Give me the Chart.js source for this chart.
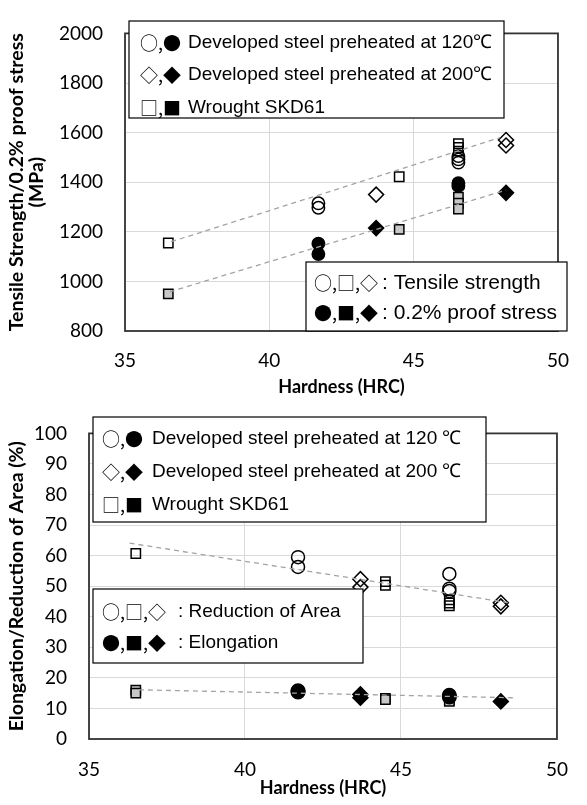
<!DOCTYPE html>
<html>
<head>
<meta charset="utf-8">
<script src="https://cdn.jsdelivr.net/npm/chart.js@4.4.1/dist/chart.umd.min.js"></script>
<style>
    html, body { margin: 0; padding: 0; background: #ffffff; }
    #wrap { position: relative; width: 587px; height: 805px; }
    canvas { position: absolute; left: 0; }
    #strengthChart { top: 0; }
    #ductilityChart { top: 400px; }
</style>
</head>
<body>
<div id="wrap">
    <canvas id="strengthChart" width="587" height="400"></canvas>
    <canvas id="ductilityChart" width="587" height="405"></canvas>
</div>
<script>
// Axa X comună: duritate (HRC)
const hardnessTicks = [35, 40, 45, 50];
const strengthTicks = [800, 1000, 1200, 1400, 1600, 1800, 2000];
const ductilityTicks = [0, 10, 20, 30, 40, 50, 60, 70, 80, 90, 100];

// Grafic 1 - rezistență la tracțiune (simboluri goale) și limita 0.2% (simboluri pline), MPa
const hrcDev120Ts = [41.7, 41.7, 46.55, 46.55, 46.55];
const tsDev120 = [1315, 1297, 1505, 1492, 1479];
const hrcDev120Ps = [41.7, 41.7, 46.55, 46.55];
const psDev120 = [1152, 1110, 1396, 1385];

const hrcDev200Ts = [43.7, 48.2, 48.2];
const tsDev200 = [1350, 1570, 1548];
const hrcDev200Ps = [43.7, 48.2];
const psDev200 = [1215, 1357];

const hrcSkdTs = [36.5, 44.5, 46.55, 46.55, 46.55];
const tsSkd = [1155, 1422, 1555, 1540, 1525];
const hrcSkdPs = [36.5, 44.5, 46.55, 46.55, 46.55];
const psSkd = [950, 1210, 1340, 1315, 1292];

// Linii de tendință (capete)
const trendHrcTs = [36.6, 48.0];
const trendTs = [1160, 1580];
const trendHrcPs = [36.55, 48.2];
const trendPs = [958, 1368];

// Grafic 2 - reducerea ariei (goale) și alungirea (pline), %
const hrcDev120Ra = [41.7, 41.7, 46.55, 46.55, 46.55];
const raDev120 = [59.5, 56.3, 54.0, 49.2, 48.4];
const hrcDev120El = [41.7, 41.7, 46.55, 46.55];
const elDev120 = [15.8, 15.4, 14.3, 13.8];

const hrcDev200Ra = [43.7, 43.7, 48.2, 48.2];
const raDev200 = [52.3, 49.7, 44.6, 43.4];
const hrcDev200El = [43.7, 43.7, 48.2];
const elDev200 = [14.6, 13.5, 12.3];

const hrcSkdRa = [36.5, 44.5, 44.5, 46.55, 46.55, 46.55];
const raSkd = [60.7, 51.5, 50.3, 45.5, 44.5, 43.6];
const hrcSkdEl = [36.5, 36.5, 44.5, 44.5, 46.55, 46.55];
const elSkd = [16.0, 15.0, 13.3, 12.9, 12.8, 12.3];

const trendHrcRa = [36.3, 48.5];
const trendRa = [64.1, 44.5];
const trendHrcEl = [36.6, 48.6];
const trendEl = [16.1, 13.5];

const TICK_FONT = { family: 'Lato, "Open Sans", sans-serif', size: 19 };
const X_TITLE_FONT = { family: 'Lato, "Open Sans", sans-serif', size: 18, weight: 'bold', lineHeight: 1.15 };
const Y_TITLE_FONT = { family: 'Lato, "Open Sans", sans-serif', size: 19.5, weight: 'bold', lineHeight: 1.05 };
const NOTE_FAMILY = '"Liberation Sans", Arial, sans-serif';
const GLYPH_FONT = '18px "Noto Sans CJK JP", "DejaVu Sans", sans-serif';

function toPoints(xs, ys) {
    return xs.map((x, i) => ({ x: x, y: ys[i] }));
}

// Set de puncte cu simbol (cerc, romb, pătrat)
function markerSet(label, xs, ys, style, fill, radius) {
    return {
        type: 'scatter',
        label: label,
        data: toPoints(xs, ys),
        pointStyle: style,
        pointRadius: radius,
        pointHoverRadius: radius,
        backgroundColor: fill,
        borderColor: '#000000',
        borderWidth: 1.5,
        order: 1
    };
}

// Linie de tendință punctată, gri
function trendSet(label, xs, ys) {
    return {
        type: 'scatter',
        label: label,
        data: toPoints(xs, ys),
        showLine: true,
        borderColor: '#a3a3a3',
        borderWidth: 1.3,
        borderDash: [5, 4],
        pointRadius: 0,
        fill: false,
        order: 0
    };
}

// Chenarul zonei de desenare
const plotFrame = {
    id: 'plotFrame',
    beforeDatasetsDraw(chart) {
        const a = chart.chartArea;
        const ctx = chart.ctx;
        ctx.save();
        ctx.strokeStyle = '#333333';
        ctx.lineWidth = 1.8;
        ctx.strokeRect(a.left, a.top, a.right - a.left, a.bottom - a.top);
        ctx.restore();
    }
};

// Casetele cu explicații (desenate peste puncte)
const notePanels = {
    id: 'notePanels',
    afterDatasetsDraw(chart, args, opts) {
        const ctx = chart.ctx;
        ctx.save();
        (opts.boxes || []).forEach(box => {
            ctx.fillStyle = '#ffffff';
            ctx.fillRect(box.x, box.y, box.w, box.h);
            ctx.strokeStyle = '#000000';
            ctx.lineWidth = 1.2;
            ctx.strokeRect(box.x, box.y, box.w, box.h);
            ctx.fillStyle = '#000000';
            ctx.textBaseline = 'middle';
            ctx.textAlign = 'left';
            box.rows.forEach(row => {
                ctx.font = GLYPH_FONT;
                ctx.fillText(row.glyphs, box.glyphX, row.y);
                ctx.font = box.size + 'px ' + NOTE_FAMILY;
                ctx.fillText(row.text, box.textX, row.y);
            });
        });
        ctx.restore();
    }
};

function buildOptions(yTicks, yTitle, axisWidth, axisHeight, pad, tickPad, titlePad, boxes) {
    return {
        responsive: false,
        animation: false,
        events: [],
        layout: { padding: pad },
        scales: {
            x: {
                type: 'linear',
                min: hardnessTicks[0],
                max: hardnessTicks[hardnessTicks.length - 1],
                afterFit: s => { s.height = axisHeight; },
                grid: { color: '#d9d9d9', lineWidth: 1, drawTicks: false },
                border: { display: false },
                ticks: {
                    stepSize: hardnessTicks[1] - hardnessTicks[0],
                    font: TICK_FONT,
                    color: '#000000',
                    padding: tickPad,
                    callback: v => String(v)
                },
                title: {
                    display: true,
                    text: 'Hardness (HRC)',
                    font: X_TITLE_FONT,
                    color: '#000000',
                    padding: { top: 0, bottom: titlePad }
                }
            },
            y: {
                type: 'linear',
                min: yTicks[0],
                max: yTicks[yTicks.length - 1],
                afterFit: s => { s.width = axisWidth; },
                grid: { color: '#d9d9d9', lineWidth: 1, drawTicks: false },
                border: { display: false },
                ticks: {
                    stepSize: yTicks[1] - yTicks[0],
                    font: TICK_FONT,
                    color: '#000000',
                    padding: 22,
                    callback: v => String(v)
                },
                title: {
                    display: true,
                    text: yTitle,
                    font: Y_TITLE_FONT,
                    color: '#000000',
                    padding: { top: 6.5, bottom: 0 }
                }
            }
        },
        plugins: {
            legend: { display: false },
            tooltip: { enabled: false },
            notePanels: { boxes: boxes }
        }
    };
}

// Grafic 1: rezistență / limita de curgere vs. duritate
new Chart(document.getElementById('strengthChart').getContext('2d'), {
    data: {
        datasets: [
            trendSet('trend TS', trendHrcTs, trendTs),
            trendSet('trend PS', trendHrcPs, trendPs),
            markerSet('120 TS', hrcDev120Ts, tsDev120, 'circle', 'rgba(255,255,255,0)', 6.2),
            markerSet('120 PS', hrcDev120Ps, psDev120, 'circle', '#000000', 6.2),
            markerSet('200 TS', hrcDev200Ts, tsDev200, 'rectRot', 'rgba(255,255,255,0)', 7.5),
            markerSet('200 PS', hrcDev200Ps, psDev200, 'rectRot', '#000000', 7.5),
            markerSet('SKD61 TS', hrcSkdTs, tsSkd, 'rect', 'rgba(255,255,255,0)', 6.6),
            markerSet('SKD61 PS', hrcSkdPs, psSkd, 'rect', '#c8c8c8', 6.6)
        ]
    },
    options: buildOptions(
        strengthTicks,
        ['Tensile Strength/0.2% proof stress', '(MPa)'],
        125, 69,
        { top: 14, right: 15, left: 0, bottom: 0 },
        18, 2,
        [
            {
                x: 129, y: 21, w: 375, h: 97, glyphX: 140, textX: 188, size: 19,
                rows: [
                    { y: 43, glyphs: '○,●', text: 'Developed steel preheated at 120℃' },
                    { y: 75, glyphs: '◇,◆', text: 'Developed steel preheated at 200℃' },
                    { y: 108, glyphs: '□,■', text: 'Wrought SKD61' }
                ]
            },
            {
                x: 306, y: 262, w: 261, h: 69, glyphX: 314, textX: 382, size: 21,
                rows: [
                    { y: 283, glyphs: '○,□,◇', text: ': Tensile strength' },
                    { y: 313, glyphs: '●,■,◆', text: ': 0.2% proof stress' }
                ]
            }
        ]
    ),
    plugins: [plotFrame, notePanels]
});

// Grafic 2: alungire / reducerea ariei vs. duritate
new Chart(document.getElementById('ductilityChart').getContext('2d'), {
    data: {
        datasets: [
            trendSet('trend RA', trendHrcRa, trendRa),
            trendSet('trend El', trendHrcEl, trendEl),
            markerSet('120 RA', hrcDev120Ra, raDev120, 'circle', 'rgba(255,255,255,0)', 6.5),
            markerSet('120 El', hrcDev120El, elDev120, 'circle', '#000000', 6.8),
            markerSet('200 RA', hrcDev200Ra, raDev200, 'rectRot', 'rgba(255,255,255,0)', 7.5),
            markerSet('200 El', hrcDev200El, elDev200, 'rectRot', '#000000', 7.5),
            markerSet('SKD61 RA', hrcSkdRa, raSkd, 'rect', 'rgba(255,255,255,0)', 6.6),
            markerSet('SKD61 El', hrcSkdEl, elSkd, 'rect', '#c8c8c8', 6.6)
        ]
    },
    options: buildOptions(
        ductilityTicks,
        'Elongation/Reduction of Area (%)',
        89, 66,
        { top: 14, right: 28, left: 0, bottom: 0 },
        19, 6,
        [
            {
                x: 93, y: 17, w: 393, h: 105, glyphX: 102, textX: 152, size: 19,
                rows: [
                    { y: 39, glyphs: '○,●', text: 'Developed steel preheated at 120 ℃' },
                    { y: 72, glyphs: '◇,◆', text: 'Developed steel preheated at 200 ℃' },
                    { y: 105, glyphs: '□,■', text: 'Wrought SKD61' }
                ]
            },
            {
                x: 93, y: 189, w: 270, h: 74, glyphX: 102, textX: 178, size: 19,
                rows: [
                    { y: 212, glyphs: '○,□,◇', text: ': Reduction of Area' },
                    { y: 243, glyphs: '●,■,◆', text: ': Elongation' }
                ]
            }
        ]
    ),
    plugins: [plotFrame, notePanels]
});
</script>
</body>
</html>
